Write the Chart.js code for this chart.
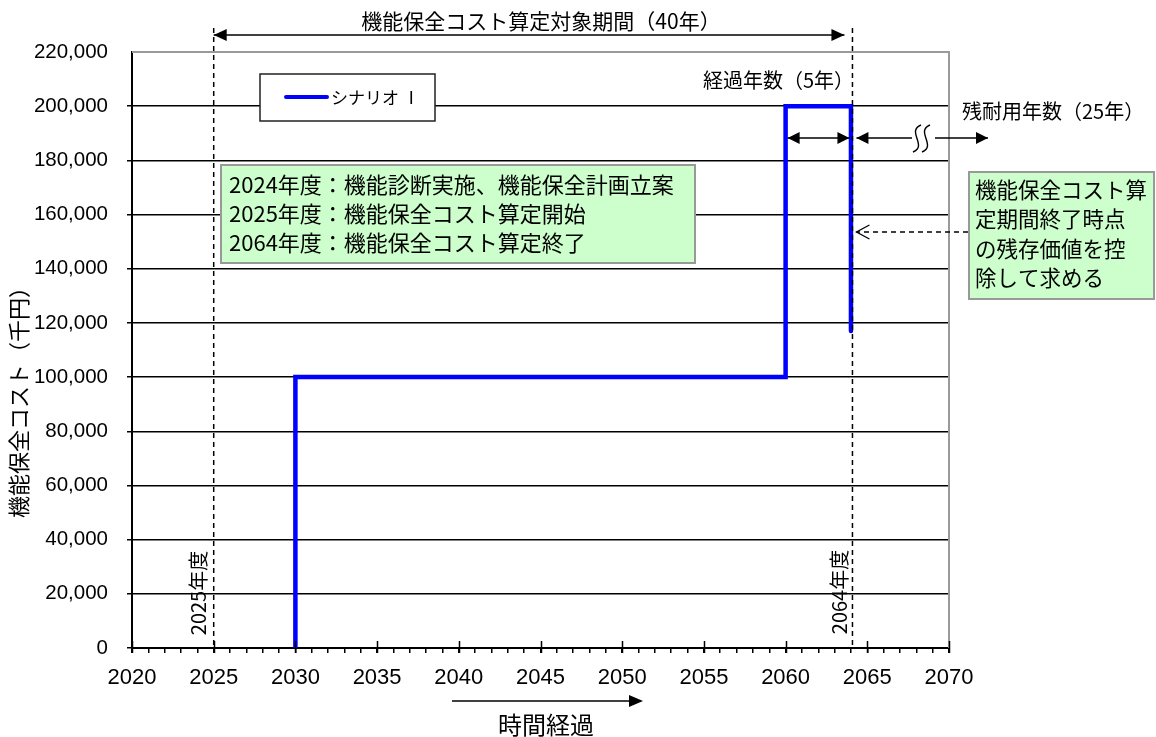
<!DOCTYPE html>
<html>
<head>
<meta charset="utf-8">
<script src="https://cdn.jsdelivr.net/npm/chart.js@4/dist/chart.umd.min.js"></script>
<style>
  html, body { margin: 0; padding: 0; background: #fff; }
  #wrap { width: 1156px; height: 737px; }
</style>
</head>
<body>
<div id="wrap"><canvas id="c" width="1156" height="737"></canvas></div>
<script>
// ---- data ----
const seriesName = 'シナリオ Ⅰ';
const stepYears  = [2030, 2030, 2060, 2060, 2064, 2064];
const stepValues = [0, 100000, 100000, 200000, 200000, 117000];
const xMin = 2020, xMax = 2070, xMajor = 5;
const yMin = 0, yMax = 220000, yStep = 20000;
const periodStart = 2025, periodEnd = 2064, elapsedStart = 2060;
const periodStartLabel = '2025年度';
const periodEndLabel = '2064年度';
const titleText = '機能保全コスト算定対象期間（40年）';
const elapsedText = '経過年数（5年）';
const remainText = '残耐用年数（25年）';
const noteLines = ['2024年度：機能診断実施、機能保全計画立案', '2025年度：機能保全コスト算定開始', '2064年度：機能保全コスト算定終了'];
const residualLines = ['機能保全コスト算', '定期間終了時点', 'の残存価値を控', '除して求める'];
const yTitle = '機能保全コスト（千円）';
const xTitle = '時間経過';

const JP = '"Noto Sans CJK JP", "Noto Sans", sans-serif';
const LAT = '"Liberation Sans", Arial, sans-serif';

function arrowHead(ctx, tx, ty, dir, len, half) {
  ctx.beginPath();
  ctx.moveTo(tx, ty);
  ctx.lineTo(tx - dir * len, ty - half);
  ctx.lineTo(tx - dir * len, ty + half);
  ctx.closePath();
  ctx.fill();
}
function hLine(ctx, x1, x2, y) {
  ctx.beginPath(); ctx.moveTo(x1, y); ctx.lineTo(x2, y); ctx.stroke();
}

const overlay = {
  id: 'overlay',
  afterDatasetsDraw(chart) {
    const ctx = chart.ctx;
    const xs = chart.scales.x, ys = chart.scales.y;
    const ca = chart.chartArea;
    ctx.save();
    // plot frame (top/right grey)
    ctx.strokeStyle = '#9a9a9a'; ctx.lineWidth = 2;
    ctx.beginPath(); ctx.moveTo(ca.left, ca.top); ctx.lineTo(ca.right, ca.top); ctx.lineTo(ca.right, ca.bottom); ctx.stroke();
    // major x ticks inside
    ctx.strokeStyle = '#000'; ctx.lineWidth = 1.5;
    for (let v = xMin; v <= xMax; v += xMajor) {
      const px = Math.round(xs.getPixelForValue(v)) + 0.5;
      ctx.beginPath(); ctx.moveTo(px, ca.bottom - 7); ctx.lineTo(px, ca.bottom + 5); ctx.stroke();
    }
    // dashed vertical lines
    const xS = xs.getPixelForValue(periodStart), xE = xs.getPixelForValue(periodEnd) + 1.5;
    ctx.setLineDash([5, 4]); ctx.lineWidth = 1.5; ctx.strokeStyle = '#000';
    [xS, xE].forEach(px => { ctx.beginPath(); ctx.moveTo(px, 28); ctx.lineTo(px, ca.bottom); ctx.stroke(); });
    ctx.setLineDash([]);

    ctx.fillStyle = '#000'; ctx.strokeStyle = '#000'; ctx.lineWidth = 1.5;
    // top period arrow
    hLine(ctx, xS, xE - 8, 35);
    arrowHead(ctx, xS, 35, -1, 13, 6);
    arrowHead(ctx, xE - 8, 35, 1, 13, 6);
    // title
    ctx.font = '21px ' + JP; ctx.textAlign = 'center'; ctx.textBaseline = 'middle';
    ctx.fillText(titleText, 541, 21);

    // elapsed text
    ctx.font = '20px ' + JP; ctx.textAlign = 'left';
    ctx.fillText(elapsedText, 703, 80);
    ctx.fillText(remainText, 962, 111);

    // elapsed double arrow
    const xA = xs.getPixelForValue(elapsedStart) + 2;
    const yArr = 138;
    hLine(ctx, xA, xE - 3, yArr);
    arrowHead(ctx, xA, yArr, -1, 12, 6);
    arrowHead(ctx, xE - 3, yArr, 1, 12, 6);
    // remaining arrow with break mark
    const rL = xE + 4;
    hLine(ctx, rL, 912, yArr);
    arrowHead(ctx, rL, yArr, -1, 12, 6);
    hLine(ctx, 935, 988, yArr);
    arrowHead(ctx, 988, yArr, 1, 12, 6);
    ctx.lineWidth = 1.4;
    [917, 926].forEach(wx => {
      ctx.beginPath();
      ctx.moveTo(wx + 4, 125);
      ctx.bezierCurveTo(wx - 11, 131, wx + 11, 146, wx - 4, 152);
      ctx.stroke();
    });

    // residual note box
    ctx.fillStyle = '#CCFFCC'; ctx.strokeStyle = '#999'; ctx.lineWidth = 2;
    ctx.fillRect(969, 172, 185, 127); ctx.strokeRect(969, 172, 185, 127);
    ctx.fillStyle = '#000'; ctx.font = '21.5px ' + JP; ctx.textAlign = 'left';
    residualLines.forEach((t, i) => ctx.fillText(t, 975, 190 + i * 29.3));
    // dashed pointer arrow
    ctx.strokeStyle = '#000'; ctx.lineWidth = 1.3; ctx.setLineDash([5, 4]);
    hLine(ctx, 968, rL, 232);
    ctx.setLineDash([]);
    ctx.beginPath(); ctx.moveTo(rL + 13, 225); ctx.lineTo(rL, 232); ctx.lineTo(rL + 13, 239); ctx.stroke();

    // notes box
    ctx.fillStyle = '#CCFFCC'; ctx.strokeStyle = '#999'; ctx.lineWidth = 2;
    ctx.fillRect(221, 165, 474, 98); ctx.strokeRect(221, 165, 474, 98);
    ctx.fillStyle = '#000'; ctx.font = '22px ' + JP;
    noteLines.forEach((t, i) => ctx.fillText(t, 229, 185 + i * 29));

    // legend box
    const ds = chart.data.datasets[0];
    ctx.fillStyle = '#fff'; ctx.strokeStyle = '#222'; ctx.lineWidth = 1.5;
    ctx.fillRect(260, 74, 175, 47); ctx.strokeRect(260, 74, 175, 47);
    ctx.strokeStyle = ds.borderColor; ctx.lineWidth = 4; ctx.lineCap = 'round';
    hLine(ctx, 286, 327, 97);
    ctx.lineCap = 'butt';
    ctx.fillStyle = '#000'; ctx.font = '17px ' + JP;
    ctx.fillText(ds.label, 331, 98);

    // rotated year labels
    ctx.font = '20px ' + JP; ctx.textAlign = 'center';
    [[periodStartLabel, 198, 593], [periodEndLabel, 839, 592]].forEach(([t, cx, cy]) => {
      ctx.save(); ctx.translate(cx, cy); ctx.rotate(-Math.PI / 2); ctx.fillText(t, 0, 0); ctx.restore();
    });
    // y title
    ctx.font = '22px ' + JP;
    ctx.save(); ctx.translate(19, 397); ctx.rotate(-Math.PI / 2); ctx.fillText(yTitle, 0, 0); ctx.restore();
    // x title and arrow
    ctx.font = '24px ' + JP;
    ctx.fillText(xTitle, 546, 725);
    ctx.strokeStyle = '#000'; ctx.lineWidth = 1.5;
    hLine(ctx, 452, 630, 701);
    arrowHead(ctx, 643, 701, 1, 14, 6);
    ctx.restore();
  }
};

const points = stepYears.map((x, i) => ({ x, y: stepValues[i] }));

new Chart(document.getElementById('c'), {
  type: 'scatter',
  data: {
    datasets: [{
      label: seriesName,
      data: points,
      showLine: true,
      borderColor: '#0000FF',
      backgroundColor: '#0000FF',
      borderWidth: 4.5,
      pointRadius: 0,
      borderJoinStyle: 'miter',
      borderCapStyle: 'round',
      fill: false,
      tension: 0
    }]
  },
  options: {
    responsive: false,
    animation: false,
    devicePixelRatio: 1,
    layout: { padding: { top: 52, right: 207, left: 0, bottom: 0 } },
    plugins: { legend: { display: false }, tooltip: { enabled: false } },
    scales: {
      x: {
        type: 'linear', min: xMin, max: xMax,
        afterFit: s => { s.height = 89; },
        ticks: {
          stepSize: 1, autoSkip: false, maxRotation: 0, minRotation: 0,
          color: '#000', font: { family: LAT, size: 22 }, padding: 12,
          callback: v => (v % xMajor === 0 ? String(v) : '')
        },
        grid: { drawOnChartArea: false, tickLength: 5, color: '#000', lineWidth: 1.5 },
        border: { display: true, color: '#000', width: 2 }
      },
      y: {
        min: yMin, max: yMax,
        afterFit: s => { s.width = 132; },
        ticks: {
          stepSize: yStep, color: '#000', font: { family: LAT, size: 20.5 }, padding: 19,
          callback: v => v.toLocaleString('en-US')
        },
        grid: {
          tickLength: 5, lineWidth: 1.5,
          color: c => (c.tick && c.tick.value === yMax ? 'rgba(0,0,0,0)' : '#000')
        },
        border: { display: true, color: '#000', width: 2 }
      }
    }
  },
  plugins: [overlay]
});
</script>
</body>
</html>
